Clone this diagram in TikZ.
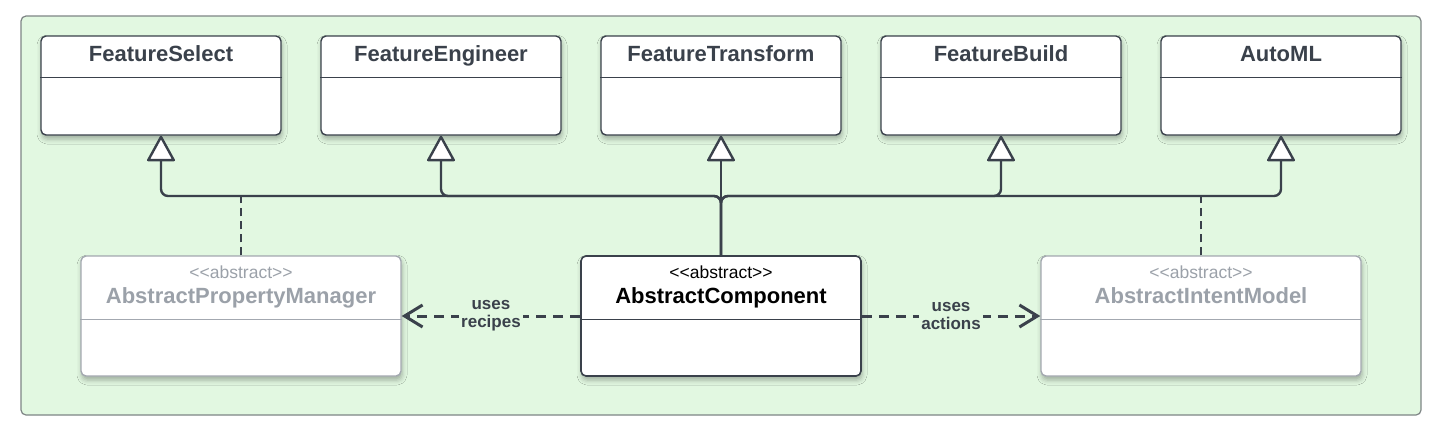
\documentclass[tikz,border=0pt]{standalone}
\usepackage{fontspec}
\setmainfont{Liberation Sans}[Ligatures=TeXOff]
\usetikzlibrary{arrows.meta,shadows.blur,calc}
\definecolor{bgreen}{HTML}{E2F8E1}
\definecolor{frameg}{HTML}{7E8585}
\definecolor{dark}{HTML}{3A414B}
\definecolor{softg}{HTML}{9BA1A9}
\definecolor{softline}{HTML}{A3A8B0}
\tikzset{
  boxshadow/.style={blur shadow={shadow xshift=1pt, shadow yshift=-4pt, shadow blur radius=5pt, shadow opacity=30}},
  topbox/.style={draw=dark, line width=1.4pt, fill=white, rounded corners=5pt, minimum width=240pt, minimum height=99pt, inner sep=0pt, boxshadow},
  darkbox/.style={draw=dark, line width=1.6pt, fill=white, rounded corners=5pt, minimum width=280pt, minimum height=120pt, inner sep=0pt, boxshadow},
  softbox/.style={draw=softline, line width=1.4pt, fill=white, rounded corners=5pt, minimum width=320pt, minimum height=120pt, inner sep=0pt, boxshadow},
  ttl/.style={font=\fontsize{22}{26}\selectfont\bfseries, inner sep=0pt, anchor=center, text height=15.8pt, text depth=0pt},
  ster/.style={font=\fontsize{17.5}{20}\selectfont, inner sep=0pt, anchor=center, text height=12.8pt, text depth=0pt},
  gen/.style={draw=dark, line width=2.4pt, rounded corners=7pt, -{Triangle[length=27pt, width=29pt, fill=white, line width=2.4pt, round]}},
  realz/.style={draw=dark, line width=2pt, dash pattern=on 8pt off 5pt},
  dep/.style={draw=dark, line width=3pt, dash pattern=on 10pt off 7pt, -{Straight Barb[length=18pt, width=22pt, line width=3pt]}},
  lbl/.style={font=\fontsize{17}{20}\selectfont\bfseries, text=dark, fill=bgreen, align=center, inner sep=2pt},
}
\begin{document}
\begin{tikzpicture}[x=1pt,y=-1pt]
\fill[white] (0,0) rectangle (1437,434);
\useasboundingbox (0,0) rectangle (1437,434);
\draw[frameg, line width=1.2pt, fill=bgreen, rounded corners=5pt] (21,16) rectangle (1421,415);

% top boxes
\foreach \nm/\cx/\tx in {fs/161/FeatureSelect, fe/441/FeatureEngineer, ft/721/FeatureTransform, fb/1001/FeatureBuild, am/1281/AutoML}{
  \node[topbox] (\nm) at (\cx,85.5) {};
  \draw[dark, line width=1.3pt] ($(\nm.north west)+(0,42)$) -- ($(\nm.north east)+(0,42)$);
  \node[ttl, text=dark] (\nm t) at ($(\nm.north)+(0,18.5)$) {\tx};
}

% bottom boxes
\node[softbox] (apm) at (241,316) {};
\draw[softline, line width=1.3pt] ($(apm.north west)+(0,64)$) -- ($(apm.north east)+(0,64)$);
\node[ster, text=softg] (apms) at ($(apm.north)+(0,16.5)$) {<<abstract>>};
\node[ttl, text=softg] (apmt) at ($(apm.north)+(0,40)$) {AbstractPropertyManager};

\node[darkbox] (ac) at (721,316) {};
\draw[dark, line width=1.3pt] ($(ac.north west)+(0,64)$) -- ($(ac.north east)+(0,64)$);
\node[ster, text=black] (acs) at ($(ac.north)+(0,16.5)$) {<<abstract>>};
\node[ttl, text=black] (act) at ($(ac.north)+(0,40)$) {AbstractComponent};

\node[softbox] (aim) at (1201,316) {};
\draw[softline, line width=1.3pt] ($(aim.north west)+(0,64)$) -- ($(aim.north east)+(0,64)$);
\node[ster, text=softg] (aims) at ($(aim.north)+(0,16.5)$) {<<abstract>>};
\node[ttl, text=softg] (aimt) at ($(aim.north)+(0,40)$) {AbstractIntentModel};

% generalization tree
\coordinate (j) at (721,196);
\draw[gen] (ac.north) -- (j) -| (fs.south);
\draw[gen] (ac.north) -- (j) -| (fe.south);
\draw[gen] (ac.north) -- (ft.south);
\draw[gen] (ac.north) -- (j) -| (fb.south);
\draw[gen] (ac.north) -- (j) -| (am.south);

% realization dashes
\draw[realz] (apm.north) -- (apm.north |- j);
\draw[realz] (aim.north) -- (aim.north |- j);

% dependencies
\draw[dep] (ac.west) -- node[lbl] {uses\\[-2pt]recipes} (apm.east);
\draw[dep] (ac.east) -- node[lbl] {uses\\[-2pt]actions} (aim.west);
\end{tikzpicture}
\end{document}
